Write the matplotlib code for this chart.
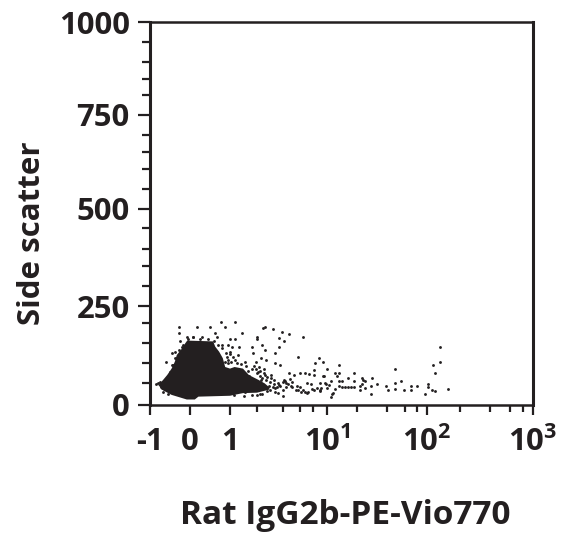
import matplotlib
matplotlib.use('Agg')
import matplotlib.pyplot as plt
import numpy as np

plt.rcParams['font.family'] = ['Open Sans', 'DejaVu Sans']
plt.rcParams['font.weight'] = 'bold'
plt.rcParams['mathtext.fontset'] = 'custom'
plt.rcParams['mathtext.rm'] = 'Open Sans:bold'
plt.rcParams['mathtext.default'] = 'regular'

######### DADOS #########

# contorno da mancha densa
top_x = [-0.79, -0.67, -0.57, -0.46, -0.38, -0.33, -0.21, -0.12, -0.07, 0.58, 0.63, 0.73, 0.82, 0.88,
         1.0, 1.17, 1.48, 1.7, 2.1, 2.6, 2.95]
top_y = [45, 58, 70, 86, 103, 120, 135, 149, 156, 154, 141, 128, 112, 90, 86, 90, 86, 70, 58, 49, 40]
bottom_x = [2.95, 2.0, 1.48, 1.0, 0.21, 0.12, -0.08, -0.46, -0.67]
bottom_y = [35, 28, 27, 21, 19, 12.5, 12.5, 23, 33]

# pontos soltos
dots_x = [-0.28, -0.28, 0.17, 0.5, 0.77, 0.88, 1.17, 0.63, 0.68, 1.44, 2.48, 2.6, 3.2, 3.9, 4.7, 6.4,
          2, 2, 3.7, 4.1, 1.19, 1, -0.08, 0.08, 0.29, -0.25, -0.21, -0.38, -0.46, -0.6, -0.46, -0.38,
          -0.25, 0.71, 0.79, 0.96, 1.09, 1.35, 1.83, 1.87, 2.38, 2.6, 3.4, 3.7, 1.3, 0.92, 1, 0.88,
          0.96, 1.55, 1.95, 2.3, 2.7, 3.4, 3.8, 5.8, 8.8, 8.3, 9.4, 8.2, 4.7, 6, 6.7, 7.4, 9.4, 8.2,
          5.3, 4.1, 4, 5.1, 7, 7.7, 9, 9.7, 3.7, 3.4, 4, 4.9, 5.8, 6.4, 7, 8.5, 9.2, 4, 2, 1.55,
          1.19, 1.14, 1.95, 2.5, 2.1, 2.6, 3.1, 2.3, 2.4, 1.55, 1.7, 1.3, -0.79, -0.71,
          14.1, 10, 12.8, 14.1, 13.4, 19, 9.5, 11.3, 14.1, 14.9, 17, 19, 23, 30, 25, 33, 29, 23, 22,
          39, 41, 49, 49, 55, 49, 59, 70, 70, 80, 96, 102, 104, 115, 124, 165, 117, 124, 140, 140,
          15, 16, 17, 18, 19, 11.5, 11.3, 12, 29, 22, 25, 12.6, 14.1, 10.6, 9.8, 9, 10, 24,
          # borda da mancha
          -0.5, -0.43, -0.33, -0.27, -0.17, -0.04, 0.08, 0.25, 0.46, 0.6,
          0.8, 0.9, 1, 1.1, 1.2, 0.95, 1.05, 1.25, 1.4, 1.6, 1.8, 2.0, 2.2, 2.4, 2.7, 3, 3.3,
          2.2, 2.5, 2.8, 3.1, 3.3, 3.6, 1.65, 1.9, 2.15, 2.9, 3.2, 3.5, 3.8, 4.3, 4.6, 5, 5.5,
          6.2, 6.7, 7.2, 3, 3.4, 3.6, 2.8, 2.4, 2.2, 1.8, 1.5,
          4.2, 4.4, 4.8, 5.6, 6, 7.8, 8.2, 9, -0.85, -0.75, -0.73, -0.68, -0.55]
dots_y = [191, 174, 191, 191, 204, 191, 204, 174, 164, 174, 187, 191, 185, 178, 173, 166,
          166, 160, 162, 154, 160, 160, 164, 166, 166, 154, 141, 128, 124, 102, 95, 112,
          120, 145, 145, 145, 141, 139, 139, 126, 145, 133, 126, 140, 120, 116, 128, 103,
          99, 103, 103, 112, 108, 99, 95, 114, 112, 101, 103, 83, 76, 76, 76, 72, 67, 70,
          70, 58, 53, 53, 49, 47, 49, 49, 45, 38, 34, 43, 35, 34, 27, 38, 38, 20, 23, 30,
          30, 23, 86, 86, 78, 70, 62, 58, 41, 70, 67, 81, 49, 38,
          95, 86, 76, 76, 67, 76, 67, 56, 56, 56, 62, 55, 62, 62, 56, 47, 43, 47, 43,
          43, 33, 86, 49, 55, 36, 33, 43, 33, 43, 25, 47, 41, 35, 32, 36, 95, 74, 102, 140,
          40, 40, 40, 40, 40, 25, 19, 27, 25, 34, 38, 36, 43, 45, 47, 35, 38, 58,
          78, 94, 112, 133, 145, 160, 164, 160, 160, 154,
          137, 126, 122, 116, 108, 108, 103, 99, 97, 92, 85, 74, 67, 62, 58, 52, 48,
          81, 74, 65, 69, 58, 50, 81, 93, 90, 43, 41, 40, 43, 41, 48, 40, 33,
          29, 29, 29, 33, 30, 27, 31, 26, 24, 22, 21,
          56, 50, 60, 43, 41, 36, 33, 31, 47, 52, 40, 29, 24]

x_major = [-1, 0, 1, 10, 100, 1000]
x_labels = ['-1', '0', '1', r'$10^{1}$', r'$10^{2}$', r'$10^{3}$']
x_minor = [2, 4, 6, 8, 20, 40, 60, 80, 200, 400, 600, 800]
y_major = [0, 250, 500, 750, 1000]
y_minor = [50, 100, 150, 200, 300, 350, 400, 450, 550, 600, 650, 700, 800, 850, 900, 950]

######### ESCALAS #########

# posição de cada marca no eixo (o eixo original não é bem regular)
xscale_val = np.array([-1, 0, 1, 2, 4, 6, 8, 10, 20, 40, 60, 80, 100, 200, 400, 600, 800, 1000], dtype=float)
xscale_pos = np.array([0, 40, 80, 107, 133, 150, 163, 177, 207, 237, 255, 267, 277, 310, 340, 360, 373, 383], dtype=float)
yscale_val = np.arange(0, 1001, 50, dtype=float)
yscale_pos = np.array([0, 22, 42, 62, 82, 99, 119, 139, 156, 177, 196, 216, 236, 253, 270, 290, 310, 326, 343, 363, 383], dtype=float)

def fwd_x(x):
    return np.interp(x, xscale_val, xscale_pos)

def inv_x(p):
    return np.interp(p, xscale_pos, xscale_val)

def fwd_y(y):
    return np.interp(y, yscale_val, yscale_pos)

def inv_y(p):
    return np.interp(p, yscale_pos, yscale_val)

######### FIGURA #########

fig = plt.figure(figsize=(5.64, 5.44), dpi=100)
ax = fig.add_axes([150 / 564, (544 - 405) / 544, 383 / 564, 383 / 544])
ax.set_xscale('function', functions=(fwd_x, inv_x))
ax.set_yscale('function', functions=(fwd_y, inv_y))
ax.set_xlim(-1, 1000)
ax.set_ylim(0, 1000)

ax.fill(top_x + bottom_x, top_y + bottom_y, color='#231f20', lw=0)
ax.scatter(dots_x, dots_y, s=4.2, marker='o', color='#231f20', linewidths=0)

ax.set_xticks(x_major)
ax.set_xticklabels(x_labels)
ax.set_xticks(x_minor, minor=True)
ax.set_xticklabels([], minor=True)
ax.set_yticks(y_major)
ax.set_yticklabels([str(v) for v in y_major])
ax.set_yticks(y_minor, minor=True)
ax.set_yticklabels([], minor=True)

ax.tick_params(axis='both', which='major', length=8.5, width=1.6, color='#231f20', labelcolor='#231f20', labelsize=22.3)
ax.tick_params(axis='both', which='minor', length=5.5, width=1.6, color='#231f20')
ax.tick_params(axis='x', which='major', length=7.5, pad=8)
ax.tick_params(axis='x', which='minor', length=5)
ax.tick_params(axis='y', which='major', pad=6)

for s in ax.spines.values():
    s.set_linewidth(1.8)
    s.set_color('#231f20')
ax.spines['left'].set_linewidth(2.2)
ax.spines['right'].set_linewidth(2.2)

fig.text(32 / 564, 1 - 233 / 544, 'Side scatter', rotation=90, ha='center', va='center', fontsize=22.5, color='#231f20')
fig.text(345 / 564, 1 - 515 / 544, 'Rat IgG2b-PE-Vio770', ha='center', va='center', fontsize=24, color='#231f20')

plt.savefig('out.png', dpi=100)
